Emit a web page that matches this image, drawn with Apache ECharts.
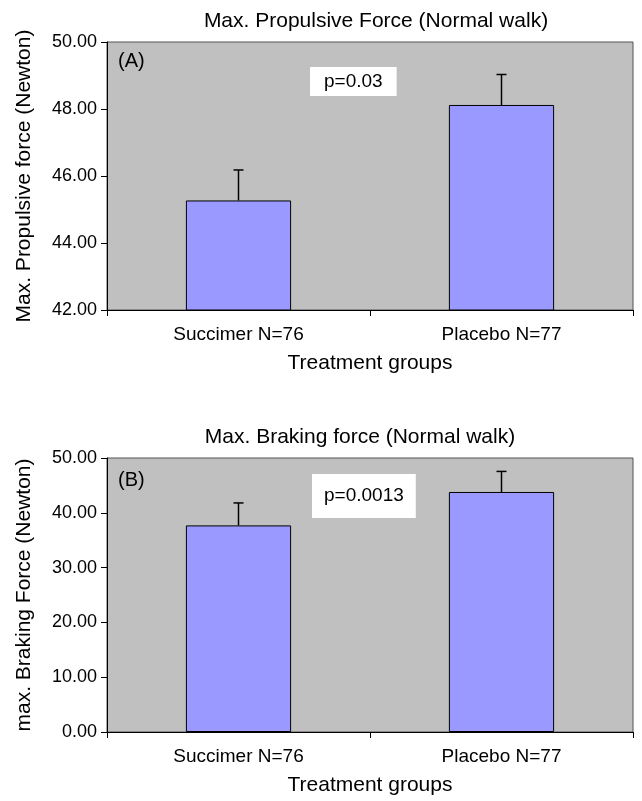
<!DOCTYPE html>
<html>
<head>
<meta charset="utf-8">
<script src="https://cdn.jsdelivr.net/npm/echarts@6/dist/echarts.min.js"></script>
<style>
  html, body { margin: 0; padding: 0; background: #fff; }
  #chartMain { width: 642px; height: 801px; }
</style>
</head>
<body>
<div id="chartMain"></div>
<script>
  // data
  var groups = ['Succimer N=76', 'Placebo N=77'];
  var propulsiveMean = [45.27, 48.12];
  var propulsiveSE = [0.91, 0.91];
  var brakingMean = [37.7, 43.8];
  var brakingSE = [4.1, 3.75];
  var propulsiveTicks = [42, 50, 2];   // min, max, step
  var brakingTicks = [0, 50, 10];

  var fontName = '"Liberation Sans", Arial, sans-serif';
  var txtColor = '#000';

  function errData(mean, se){
    var out = [];
    for (var i = 0; i < mean.length; i++) {
      out.push([i, mean[i], mean[i] + se[i]]);
    }
    return out;
  }

  // upper error bar with a small cap
  function errorItem(params, api){
    var base = api.coord([api.value(0), api.value(1)]);
    var top = api.coord([api.value(0), api.value(2)]);
    var half = 5;
    var st = { stroke: '#000', lineWidth: 1.5 };
    return {
      type: 'group',
      children: [
        { type: 'line', shape: { x1: base[0], y1: base[1], x2: top[0], y2: top[1] }, style: st },
        { type: 'line', shape: { x1: top[0] - half, y1: top[1], x2: top[0] + half, y2: top[1] }, style: st }
      ]
    };
  }

  function xAxisOf(gi){
    return {
      type: 'category',
      gridIndex: gi,
      data: groups,
      boundaryGap: true,
      axisLine: { lineStyle: { color: '#000', width: 1 } },
      axisTick: { show: true, length: 6, lineStyle: { color: '#000' } },
      axisLabel: { color: txtColor, fontSize: 19, fontFamily: fontName, margin: 15 },
      name: 'Treatment groups',
      nameLocation: 'middle',
      nameGap: 43,
      nameTextStyle: { color: txtColor, fontSize: 21, fontFamily: fontName }
    };
  }

  function yAxisOf(gi, ticks, title){
    return {
      type: 'value',
      gridIndex: gi,
      min: ticks[0],
      max: ticks[1],
      interval: ticks[2],
      axisLine: { show: true, lineStyle: { color: '#000', width: 1 } },
      axisTick: { show: true, length: 6, lineStyle: { color: '#000' } },
      splitLine: { show: false },
      axisLabel: {
        color: txtColor, fontSize: 18, fontFamily: fontName, margin: 10,
        formatter: function(v){ return v.toFixed(2); }
      },
      name: title,
      nameLocation: 'middle',
      nameGap: 72,
      nameTextStyle: { color: txtColor, fontSize: 21, fontFamily: fontName }
    };
  }

  function barSeries(gi, mean){
    return {
      type: 'bar',
      xAxisIndex: gi,
      yAxisIndex: gi,
      data: mean,
      barCategoryGap: '60%',
      itemStyle: { color: '#9999ff', borderColor: '#000', borderWidth: 1 },
      silent: true
    };
  }

  function errSeries(gi, mean, se){
    return {
      type: 'custom',
      xAxisIndex: gi,
      yAxisIndex: gi,
      data: errData(mean, se),
      renderItem: errorItem,
      z: 3,
      silent: true
    };
  }

  function pBox(x, y, txt, pad){
    return {
      type: 'text',
      left: x,
      top: y,
      z: 10,
      style: {
        text: txt,
        fontSize: 19,
        fontFamily: fontName,
        fill: txtColor,
        backgroundColor: '#fff',
        padding: pad
      }
    };
  }

  function panelTag(x, y, txt){
    return {
      type: 'text',
      left: x,
      top: y,
      z: 10,
      style: { text: txt, fontSize: 20, fontFamily: fontName, fill: txtColor }
    };
  }

  var option = {
    animation: false,
    backgroundColor: '#fff',
    title: [
      {
        text: 'Max. Propulsive Force (Normal walk)',
        left: 371, top: 6, textAlign: 'center',
        textStyle: { color: txtColor, fontSize: 21, fontWeight: 'normal', fontFamily: fontName }
      },
      {
        text: 'Max. Braking force (Normal walk)',
        left: 355, top: 422, textAlign: 'center',
        textStyle: { color: txtColor, fontSize: 21, fontWeight: 'normal', fontFamily: fontName }
      }
    ],
    grid: [
      { left: 107, right: 9, top: 42, height: 268, show: true, backgroundColor: '#c0c0c0', borderColor: '#555', borderWidth: 1 },
      { left: 107, right: 9, top: 458, height: 274, show: true, backgroundColor: '#c0c0c0', borderColor: '#555', borderWidth: 1 }
    ],
    xAxis: [xAxisOf(0), xAxisOf(1)],
    yAxis: [
      yAxisOf(0, propulsiveTicks, 'Max. Propulsive force (Newton)'),
      yAxisOf(1, brakingTicks, 'max. Braking Force (Newton)')
    ],
    series: [
      barSeries(0, propulsiveMean),
      errSeries(0, propulsiveMean, propulsiveSE),
      barSeries(1, brakingMean),
      errSeries(1, brakingMean, brakingSE)
    ],
    graphic: [
      panelTag(118, 51, '(A)'),
      panelTag(118, 470, '(B)'),
      pBox(310, 67, 'p=0.03', [5, 14, 5, 14]),
      pBox(312, 474, 'p=0.0013', [12, 12, 13, 12])
    ]
  };

  var myChart = echarts.init(document.getElementById('chartMain'));
  option && myChart.setOption(option, true);
</script>
</body>
</html>
